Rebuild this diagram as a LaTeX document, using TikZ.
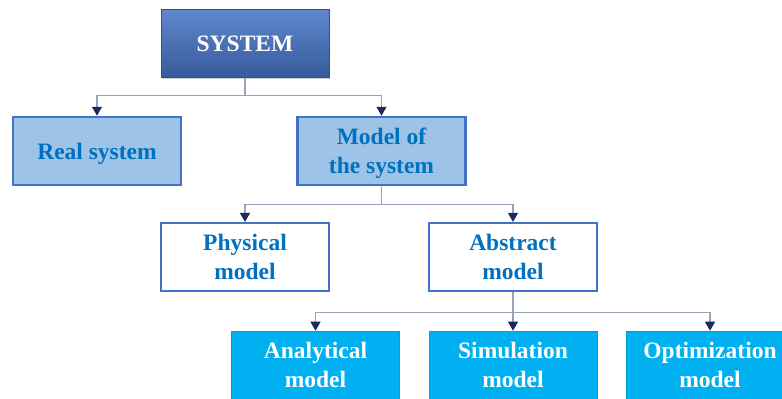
\documentclass[tikz,border=0pt]{standalone}
\usepackage{fontspec}
\setmainfont{Liberation Serif}
\usetikzlibrary{positioning, arrows.meta, shadows}
\definecolor{edgeblue}{HTML}{4472C4}
\definecolor{paleblue}{HTML}{9DC3E6}
\definecolor{textblue}{HTML}{0070C0}
\definecolor{skyblue}{HTML}{00B0F0}
\definecolor{linkgray}{HTML}{9AA3B5}
\definecolor{tipnavy}{HTML}{1B2A5E}

\begin{document}
\begin{tikzpicture}[x=1pt,y=-1pt]
\tikzstyle{every node}+=[inner sep=0pt, align=center, minimum width=168pt, minimum height=68pt, text depth=0pt, font=\fontsize{23.5}{29}\selectfont\bfseries]
\tikzstyle{topbox}=[top color=edgeblue!85!white, bottom color=edgeblue!80!black, draw=edgeblue!70!black, line width=0.6pt, text=white, drop shadow={shadow xshift=1pt, shadow yshift=-1.5pt, opacity=0.35}]
\tikzstyle{midbox}=[fill=paleblue, draw=edgeblue, line width=2.5pt, text=textblue]
\tikzstyle{outbox}=[fill=white, draw=edgeblue, line width=2.2pt, text=textblue, text depth=-5pt]
\tikzstyle{lowbox}=[fill=skyblue, draw=skyblue!90!black, line width=0.6pt, text=white, text depth=-4pt]
\tikzstyle{link}=[draw=linkgray, line width=1.2pt, -{Triangle[color=tipnavy, width=10pt, length=9pt]}]
\clip (0,0) rectangle (782,399);
\node [topbox] (sys) at (245,43.5) {SYSTEM};
\node [midbox] (real) at (97,151) {Real system};
\node [midbox] (model) at (381.5,151) {Model of\\the system};
\node [outbox] (phys) at (245,257) {Physical\\model};
\node [outbox] (abs) at (513,257) {Abstract\\model};
\node [lowbox] (ana) at (315.5,365) {Analytical\\model};
\node [lowbox] (sim) at (513,365) {Simulation\\model};
\node [lowbox] (opt) at (710,365) {Optimization\\model};
\draw [link] (sys.south) -- ++(0,18) -| (real.north);
\draw [link] (sys.south) -- ++(0,18) -| (model.north);
\draw [link] (model.south) -- ++(0,18) -| (phys.north);
\draw [link] (model.south) -- ++(0,18) -| (abs.north);
\draw [link] (abs.south) -- ++(0,20) -| (ana.north);
\draw [link] (abs.south) -- (sim.north);
\draw [link] (abs.south) -- ++(0,20) -| (opt.north);
\end{tikzpicture}
\end{document}
